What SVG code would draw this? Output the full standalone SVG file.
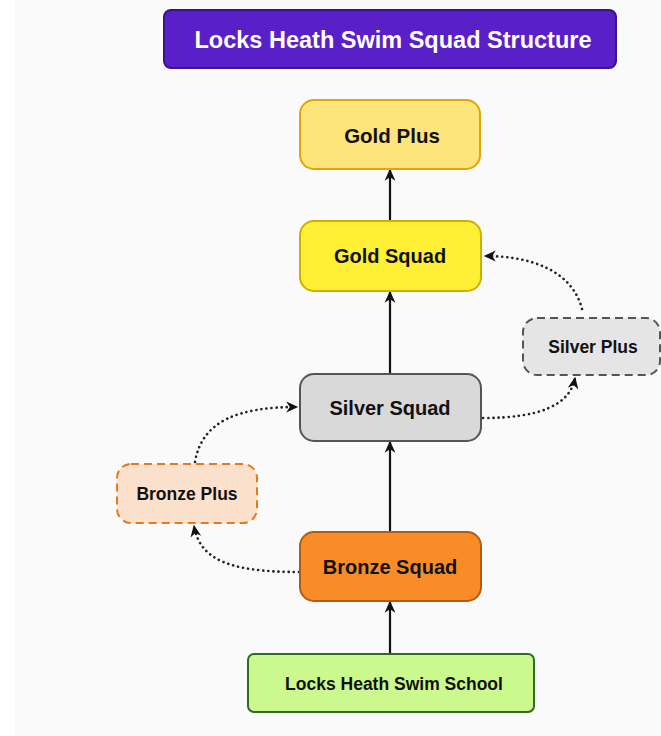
<svg xmlns="http://www.w3.org/2000/svg" width="661" height="736" viewBox="0 0 661 736">
<defs>
<marker id="ah" viewBox="0 0 10 10" refX="9" refY="5" markerWidth="12" markerHeight="12" markerUnits="userSpaceOnUse" orient="auto" overflow="visible">
<path d="M0,0.5 L10,5 L0,9.5 L3,5 z" fill="#111"/>
</marker>
<style>
text{font-family:"Liberation Sans",Arial,sans-serif;font-weight:bold;text-anchor:middle;dominant-baseline:central;fill:#111}
.solid{stroke:#111;stroke-width:2.2;fill:none}
.dot{stroke:#222;stroke-width:2.6;fill:none;stroke-dasharray:0.1 5;stroke-linecap:round}
</style>
</defs>
<rect x="0" y="0" width="661" height="736" fill="#ffffff"/>
<rect x="15" y="0" width="646" height="736" fill="#fafafa"/>
<g id="title">
<rect x="164" y="10" width="452" height="58" rx="7" fill="#5a20c8" stroke="#3a1190" stroke-width="2"/>
<text x="393" y="40" style="fill:#ffffff;font-size:23.5px">Locks Heath Swim Squad Structure</text>
</g>
<g id="connectors">
<line class="solid" x1="390" y1="221" x2="390" y2="170" marker-end="url(#ah)"/>
<line class="solid" x1="390" y1="374" x2="390" y2="292" marker-end="url(#ah)"/>
<line class="solid" x1="390" y1="532" x2="390" y2="442" marker-end="url(#ah)"/>
<line class="solid" x1="390" y1="654" x2="390" y2="602" marker-end="url(#ah)"/>
<path class="dot" d="M 483 418 C 540 418, 570 405, 575 378" marker-end="url(#ah)"/>
<path class="dot" d="M 582 309 C 572 270, 530 256, 485 256" marker-end="url(#ah)"/>
<path class="dot" d="M 299 572 C 230 572, 200 560, 194 526" marker-end="url(#ah)"/>
<path class="dot" d="M 195 462 C 202 420, 240 407, 297 407" marker-end="url(#ah)"/>
</g>
<g id="gold-plus">
<rect x="300" y="100" width="180" height="69" rx="14" fill="#fde57c" stroke="#dfa60a" stroke-width="2"/>
<text x="392" y="135" style="font-size:20.5px">Gold Plus</text>
</g>
<g id="gold-squad">
<rect x="300" y="221" width="181" height="70" rx="14" fill="#fff036" stroke="#d3ad00" stroke-width="2"/>
<text x="390" y="256" style="font-size:20px">Gold Squad</text>
</g>
<g id="silver-plus">
<rect x="523" y="318" width="137" height="57" rx="14" fill="#e5e5e5" stroke="#555" stroke-width="2" stroke-dasharray="8 5"/>
<text x="593" y="347" style="font-size:17.5px">Silver Plus</text>
</g>
<g id="silver-squad">
<rect x="300" y="374" width="181" height="67" rx="14" fill="#d9d9d9" stroke="#555" stroke-width="2"/>
<text x="390" y="408" style="font-size:20px">Silver Squad</text>
</g>
<g id="bronze-plus">
<rect x="117" y="464" width="140" height="59" rx="14" fill="#fbe1cb" stroke="#e27a22" stroke-width="2" stroke-dasharray="8 5"/>
<text x="187" y="494" style="font-size:17.5px">Bronze Plus</text>
</g>
<g id="bronze-squad">
<rect x="300" y="532" width="181" height="69" rx="14" fill="#f98c26" stroke="#b35b12" stroke-width="2"/>
<text x="390" y="567" style="font-size:20px">Bronze Squad</text>
</g>
<g id="swim-school">
<rect x="248" y="654" width="286" height="58" rx="6" fill="#cbf98d" stroke="#2f6b22" stroke-width="2"/>
<text x="394" y="684" style="font-size:17.5px">Locks Heath Swim School</text>
</g>
</svg>
